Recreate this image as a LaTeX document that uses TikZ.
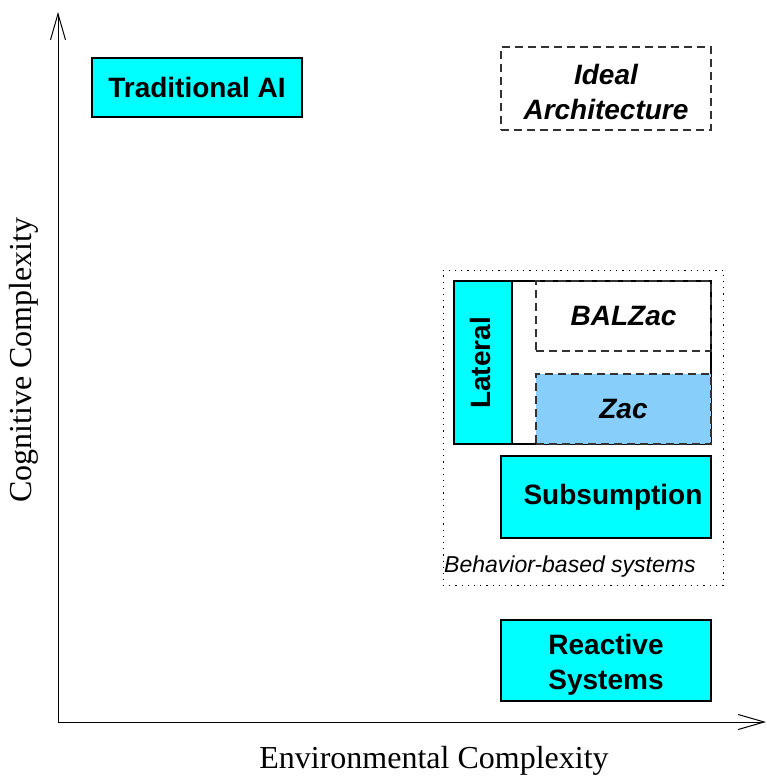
\documentclass[tikz,border=0pt]{standalone}
\usepackage{fontspec}
\setmainfont{Liberation Serif}
\setsansfont{Liberation Sans}
\usetikzlibrary{arrows.meta}
\definecolor{boxcyan}{RGB}{0,255,255}
\definecolor{zacblue}{RGB}{135,206,250}
\definecolor{dashgray}{RGB}{50,50,50}
\tikzset{
  archbox/.style={draw=black, line width=1.1pt, inner sep=0pt, outer sep=0pt,
    align=center, font=\sffamily\bfseries\fontsize{28}{35}\selectfont},
  solidbox/.style={archbox, fill=boxcyan},
  dashbox/.style={archbox, draw=dashgray, dash pattern=on 8pt off 5pt,
    font=\sffamily\bfseries\itshape\fontsize{28}{35}\selectfont},
  boxtext/.style={inner sep=0pt, align=center, font=\sffamily\bfseries\fontsize{28}{35}\selectfont},
  axislabel/.style={font=\rmfamily\fontsize{32}{36}\selectfont, inner sep=0pt},
  axisline/.style={line width=1pt, -{Straight Barb[length=26pt,width=15pt]}}
}
\begin{document}
\begin{tikzpicture}[x=1pt,y=-1pt]
\useasboundingbox (0,0) rectangle (767,780);

% axes
\coordinate (origin) at (58,722);
\coordinate (ytop) at (58,12);
\coordinate (xend) at (766,722);
\draw[axisline] (origin) -- (ytop);
\draw[axisline] (origin) -- (xend);
\node[axislabel, rotate=90] (ylab) at (24,360) {Cognitive Complexity};
\node[axislabel] (xlab) at (434,761) {Environmental Complexity};

% corner architectures
\node[solidbox, minimum width=210pt, minimum height=59pt] (tradai) at (197,87.5) {Traditional AI};
\node[dashbox, minimum width=210pt, minimum height=83pt] (ideal) at (606,88.5) {};
\node[boxtext, font=\sffamily\bfseries\itshape\fontsize{28}{35}\selectfont]
      (idealtext) at ([yshift=-3pt]ideal.center) {Ideal\\Architecture};

% behaviour-based systems group
\node[draw=black, line width=1pt, dash pattern=on 1.2pt off 5pt,
      minimum width=280pt, minimum height=315pt, inner sep=0pt] (bbs) at (583,427.5) {};
\node[font=\sffamily\itshape\fontsize{23}{27}\selectfont, anchor=base west, inner sep=0pt]
      (bbslab) at (444,572) {Behavior-based systems};

\node[draw=black, line width=1.1pt, fill=white, minimum width=257pt, minimum height=163pt,
      inner sep=0pt] (hybrid) at (582.5,362.5) {};
\node[solidbox, minimum width=58pt, minimum height=163pt] (lateral) at (483,362.5) {};
\node[boxtext, rotate=90] (latlab) at (480,363) {Lateral};
\node[dashbox, minimum width=175pt, minimum height=70pt] (balzac) at (623.5,316) {BALZac};
\node[dashbox, fill=zacblue, minimum width=175pt, minimum height=70pt] (zac) at (623.5,409) {Zac};
\node[solidbox, minimum width=210pt, minimum height=82pt] (subs) at (606,497) {\hspace{14pt}Subsumption};

% reactive systems
\node[solidbox, minimum width=210pt, minimum height=81pt] (reactive) at (606,660.5) {};
\node[boxtext] (reacttext) at ([yshift=-4pt]reactive.center) {Reactive\\Systems};
\end{tikzpicture}
\end{document}
